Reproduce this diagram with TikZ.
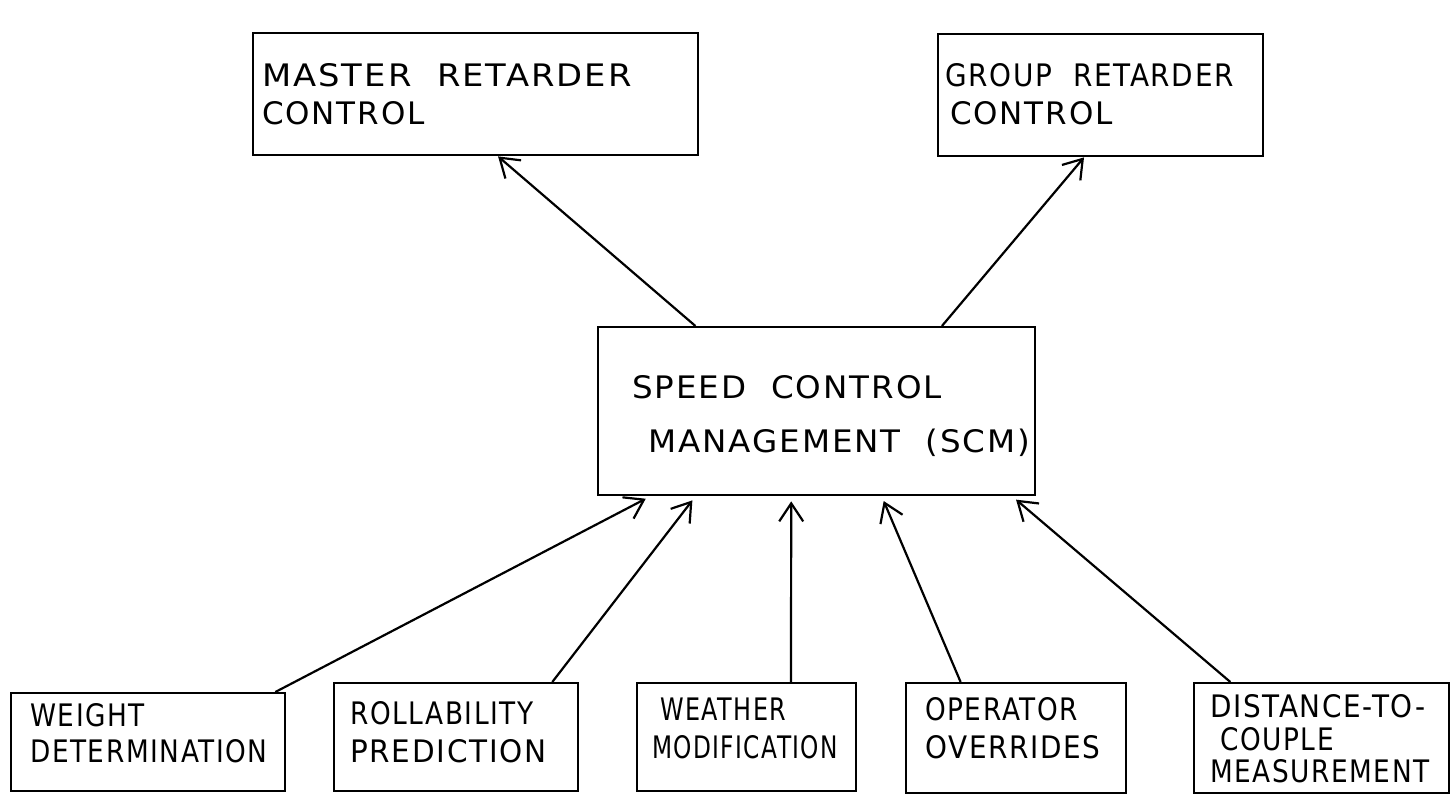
\documentclass[tikz,border=0pt]{standalone}
\usepackage{fontspec}
\setmainfont{DejaVu Sans}[LetterSpace=6]
\usetikzlibrary{arrows.meta,calc}
\tikzset{
  box/.style={draw=black, line width=2.4pt, inner sep=0pt, anchor=north west},
  lbl/.style={anchor=base west, inner sep=0pt, font=\fontsize{31}{34}\selectfont},
  conn/.style={line width=2.2pt, -{Straight Barb[length=18pt,width=24pt,line width=2.2pt]}}
}
\begin{document}
\begin{tikzpicture}[x=1pt,y=-1pt]
\useasboundingbox (0,0) rectangle (1455,795);
% boxes
\node[box, minimum width=445pt, minimum height=122pt] (mrc) at (252,32) {};
\node[box, minimum width=325pt, minimum height=122pt] (grc) at (937,33) {};
\node[box, minimum width=437pt, minimum height=168pt] (scm) at (597,326) {};
\node[box, minimum width=274pt, minimum height=98pt] (wd) at (10,692) {};
\node[box, minimum width=244pt, minimum height=108pt] (rp) at (333,682) {};
\node[box, minimum width=219pt, minimum height=108pt] (wm) at (636,682) {};
\node[box, minimum width=220pt, minimum height=110pt] (oo) at (905,682) {};
\node[box, minimum width=255pt, minimum height=110pt] (dc) at (1193,682) {};
% labels
\node[lbl] (mrc1) at (262,86) {\scalebox{1.09}[1]{MASTER\ \ RETARDER}};
\node[lbl] (mrc2) at (262,124) {CONTROL};
\node[lbl] (grc1) at (945,86) {\scalebox{0.9}[1]{GROUP\ \ RETARDER}};
\node[lbl] (grc2) at (950,124) {CONTROL};
\node[lbl] (scm1) at (632,398) {\scalebox{1.05}[1]{SPEED\ \ CONTROL}};
\node[lbl] (scm2) at (648,452) {\scalebox{1.05}[1]{MANAGEMENT\ \ (SCM)}};
\node[lbl] (wd1) at (30,726) {\scalebox{0.85}[1]{WEIGHT}};
\node[lbl] (wd2) at (30,762) {\scalebox{0.85}[1]{DETERMINATION}};
\node[lbl] (rp1) at (350,724) {\scalebox{0.85}[1]{ROLLABILITY}};
\node[lbl] (rp2) at (350,762) {\scalebox{0.95}[1]{PREDICTION}};
\node[lbl] (wm1) at (660,720) {\scalebox{0.77}[1]{WEATHER}};
\node[lbl] (wm2) at (652,758) {\scalebox{0.75}[1]{MODIFICATION}};
\node[lbl] (oo1) at (925,720) {\scalebox{0.85}[1]{OPERATOR}};
\node[lbl] (oo2) at (925,758) {\scalebox{0.9}[1]{OVERRIDES}};
\node[lbl] (dc1) at (1210,717) {\scalebox{0.9}[1]{DISTANCE-TO-}};
\node[lbl] (dc2) at (1220,750) {\scalebox{0.85}[1]{COUPLE}};
\node[lbl] (dc3) at (1210,782) {\scalebox{0.85}[1]{MEASUREMENT}};
% connectors
\draw[conn] ($(scm.north west)!0.224!(scm.north east)$) -- ($(mrc.south west)!0.55!(mrc.south east)$);
\draw[conn] ($(scm.north west)!0.785!(scm.north east)$) -- ($(grc.south west)!0.449!(grc.south east)$);
\draw[conn, shorten >=5pt] ($(wd.north west)!0.96!(wd.north east)$) -- ($(scm.south west)!0.121!(scm.south east)$);
\draw[conn, shorten >=5pt] ($(rp.north west)!0.89!(rp.north east)$) -- ($(scm.south west)!0.224!(scm.south east)$);
\draw[conn, shorten >=5pt] ($(wm.north west)!0.70!(wm.north east)$) -- ($(scm.south west)!0.442!(scm.south east)$);
\draw[conn, shorten >=5pt] ($(oo.north west)!0.25!(oo.north east)$) -- ($(scm.south west)!0.648!(scm.south east)$);
\draw[conn, shorten >=5pt] ($(dc.north west)!0.145!(dc.north east)$) -- ($(scm.south west)!0.945!(scm.south east)$);
\end{tikzpicture}
\end{document}
